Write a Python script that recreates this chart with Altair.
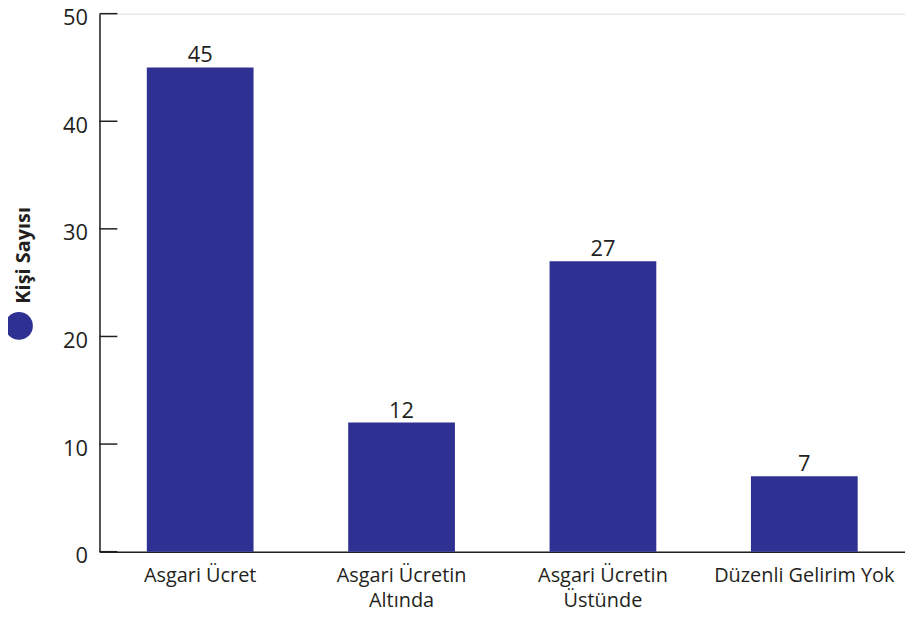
import altair as alt
import pandas as pd

categories = ["Asgari Ücret", "Asgari Ücretin\nAltında", "Asgari Ücretin\nÜstünde", "Düzenli Gelirim Yok"]
values = [45, 12, 27, 7]
y_ticks = [0, 10, 20, 30, 40, 50]
series_name = "Kişi Sayısı"

BAR = "#2E3192"
INK = "#231F20"
FONT = "Open Sans"

df = pd.DataFrame({"cat": categories, "val": values})
ticks = pd.DataFrame({"t": y_ticks})
legend_df = pd.DataFrame({"name": [series_name]})

xscale = alt.Scale(domain=categories, paddingInner=0.47, paddingOuter=0.235)
yscale = alt.Scale(domain=[0, 50], nice=False)

bars = alt.Chart(df).mark_bar(color=BAR).encode(
    x=alt.X("cat:N", scale=xscale, sort=categories,
            axis=alt.Axis(title=None, labelAngle=0, ticks=False, domainColor=INK, domainWidth=1.5,
                          labelColor=INK, labelFont=FONT, labelFontSize=20, labelPadding=14,
                          labelLimit=400, labelOverlap=False,
                          labelExpr="split(datum.label, '\\n')", labelLineHeight=25)),
    y=alt.Y("val:Q", scale=yscale,
            axis=alt.Axis(title=None, values=y_ticks, ticks=False, grid=False, domainColor=INK,
                          domainWidth=1.5, labelColor=INK, labelFont=FONT, labelFontSize=22,
                          labelPadding=12, labelOffset=4)),
)

labels = alt.Chart(df).mark_text(baseline="bottom", dy=0, font=FONT, fontSize=22, color=INK).encode(
    x=alt.X("cat:N", scale=xscale, sort=categories),
    y=alt.Y("val:Q", scale=yscale),
    text="val:Q",
)

tick_rules = alt.Chart(ticks).mark_rule(color=INK, strokeWidth=1.5).encode(
    y=alt.Y("t:Q", scale=yscale),
    x=alt.value(0),
    x2=alt.value(18),
)

legend_dot = alt.Chart(legend_df).mark_point(filled=True, shape="circle", size=784, color=BAR, opacity=1).encode(
    x=alt.value(-81), y=alt.value(314)
)
legend_text = alt.Chart(legend_df).mark_text(angle=270, font=FONT, fontSize=20, fontWeight="bold",
                                             color=INK, align="center", baseline="middle").encode(
    x=alt.value(-76), y=alt.value(243), text="name:N"
)

chart = alt.layer(bars, labels, tick_rules, legend_dot, legend_text).properties(
    width=810, height=541,
    autosize=alt.AutoSizeParams(type="none"),
    padding={"left": 92, "top": 4, "right": 0, "bottom": 63},
).configure_view(stroke=None).configure(background="white")

chart.save("out.html", embed_options={"renderer": "svg", "actions": False})
